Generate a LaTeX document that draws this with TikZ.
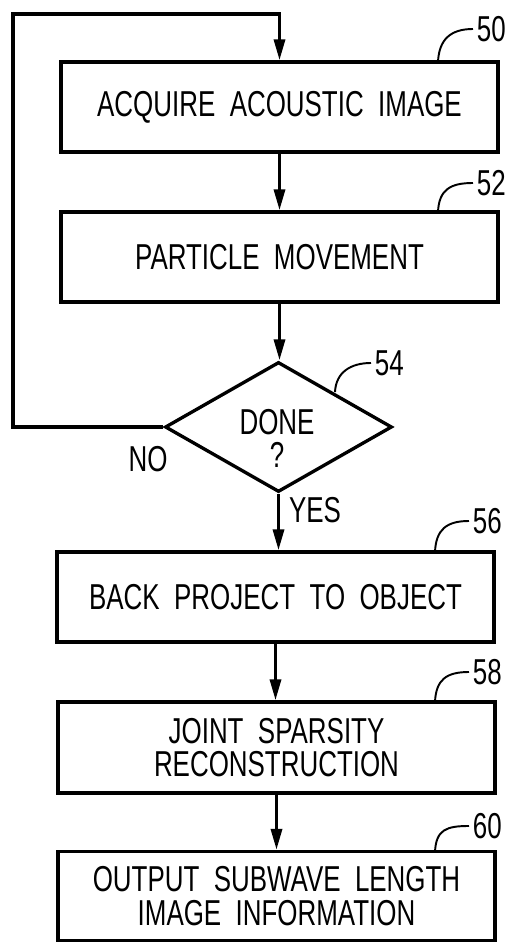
\documentclass[tikz,border=0pt]{standalone}
\usepackage{fontspec}
\setmainfont{Liberation Sans}[FakeStretch=0.72]
\usetikzlibrary{shapes.geometric,arrows.meta}

\begin{document}
\begin{tikzpicture}[
    stepbox/.style={draw, line width=1.9pt, minimum width=8.74cm, minimum height=1.80cm, align=center, inner sep=0pt},
    testbox/.style={draw, diamond, line width=1.9pt, minimum width=4.54cm, minimum height=2.60cm, inner sep=0pt},
    flow/.style={line width=1.9pt, -{Triangle[length=0.42cm,width=0.22cm]}},
    leader/.style={line width=1.1pt},
    refnum/.style={anchor=west, inner sep=2pt}]
                            \useasboundingbox (0,0) rectangle (10.280000,18.840000);
                            {\fontsize{20.5}{19}\selectfont

                            % Drawing box 50
                            \node [stepbox] (box50) at (5.590000,16.700000) {ACQUIRE~~ACOUSTIC~~IMAGE};%

                            % Drawing box 52
                            \node [stepbox] (box52) at (5.590000,13.700000) {PARTICLE~~MOVEMENT};%

                            % Drawing test 54
                            \node [testbox] (done) at (5.570000,10.300000) {};%
                            \node [align=center, inner sep=0pt] (donetext) at (5.540000,10.070000) {DONE\\?};%

                            % Drawing box 56
                            \node [stepbox] (box56) at (5.510000,6.900000) {BACK~~PROJECT~~TO~~OBJECT};%

                            % Drawing box 58
                            \node [stepbox, minimum height=1.82cm] (box58) at (5.530000,3.890000) {JOINT~~SPARSITY\\RECONSTRUCTION};%

                            % Drawing box 60
                            \node [stepbox, minimum height=1.78cm] (box60) at (5.530000,0.920000) {OUTPUT~~SUBWAVE~~LENGTH\\IMAGE~~INFORMATION};%

                            % Drawing flow lines
                            \draw [flow] (box50.south) -- (box52.north);%
                            \draw [flow] (box52.south) -- (box52.south |- done.north);%
                            \draw [flow] (done.south) -- (done.south |- box56.north);%
                            \draw [flow] (box56.south) -- (box56.south |- box58.north);%
                            \draw [flow] (box58.south) -- (box58.south |- box60.north);%

                            % Drawing loop back
                            \coordinate (loopbl) at (0.260000,10.300000);%
                            \coordinate (looptl) at (0.260000,18.560000);%
                            \draw [flow] (done.west) -- (loopbl) -- (looptl) -| (box50.north);%

                            % Marking branch NO
                            \draw (2.960000,9.660000) node (no) { NO };%

                            % Marking branch YES
                            \draw (6.300000,8.640000) node (yes) { YES };%

                            % Marking reference numbers
                            \node [refnum] (lbl50) at (9.460000,18.260000) {50};%
                            \node [refnum] (lbl52) at (9.460000,15.180000) {52};%
                            \node [refnum] (lbl54) at (7.420000,11.580000) {54};%
                            \node [refnum] (lbl56) at (9.380000,8.420000) {56};%
                            \node [refnum] (lbl58) at (9.380000,5.400000) {58};%
                            \node [refnum] (lbl60) at (9.380000,2.320000) {60};%

                            % Drawing leaders
                            \coordinate (lead50) at (8.760000,17.600000);%
                            \coordinate (lead52) at (8.760000,14.600000);%
                            \coordinate (lead54) at (6.700000,11.000000);%
                            \coordinate (lead56) at (8.700000,7.800000);%
                            \coordinate (lead58) at (8.700000,4.800000);%
                            \coordinate (lead60) at (8.700000,1.800000);%
                            \draw [leader] (lead50) .. controls +(0.02,0.45) and +(-0.45,0) .. (lbl50.west);%
                            \draw [leader] (lead52) .. controls +(0.02,0.45) and +(-0.45,0) .. (lbl52.west);%
                            \draw [leader] (lead54) .. controls +(0.02,0.40) and +(-0.40,0) .. (lbl54.west);%
                            \draw [leader] (lead56) .. controls +(0.02,0.45) and +(-0.45,0) .. (lbl56.west);%
                            \draw [leader] (lead58) .. controls +(0.02,0.45) and +(-0.45,0) .. (lbl58.west);%
                            \draw [leader] (lead60) .. controls +(0.02,0.45) and +(-0.45,0) .. (lbl60.west);%
                            }
\end{tikzpicture}
\end{document}
